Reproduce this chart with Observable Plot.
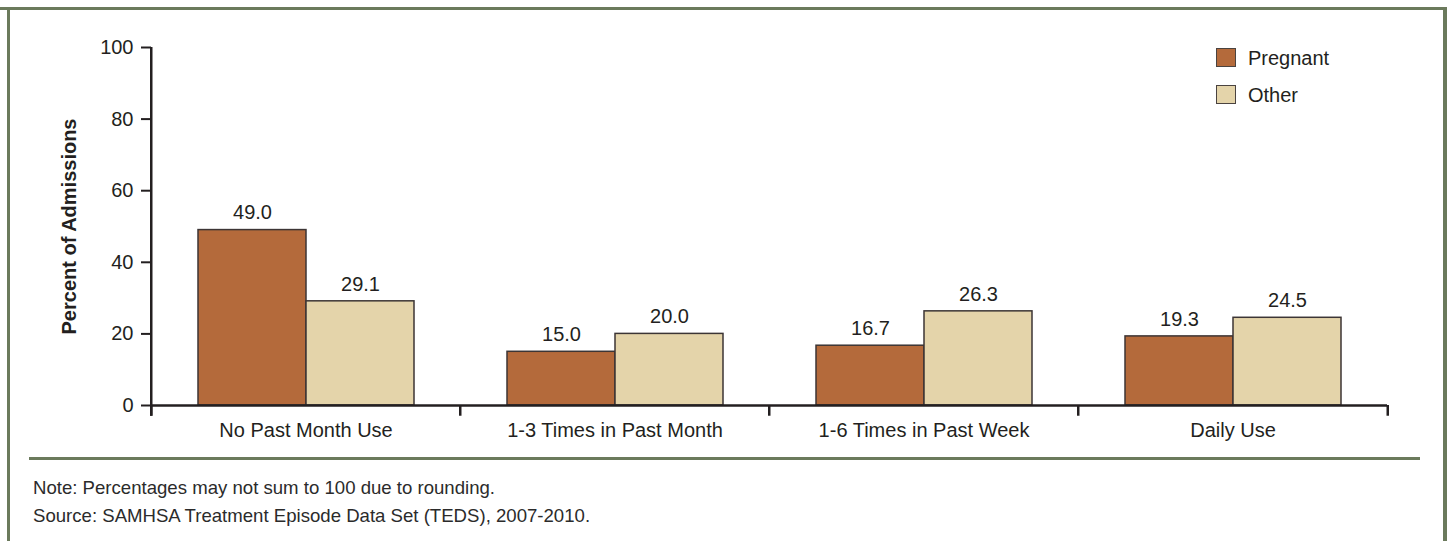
<!DOCTYPE html>
<html><head><meta charset="utf-8">
<script src="https://cdn.jsdelivr.net/npm/d3@7"></script>
<script src="https://cdn.jsdelivr.net/npm/@observablehq/plot@0.6"></script>
<style>
body{margin:0;background:#fff;}
#wrap{position:relative;width:1453px;height:541px;overflow:hidden;background:#fff;}
.bd{position:absolute;background:#6b7a5c;}
#chart{position:absolute;left:0;top:0;}
#chart svg{background:none;overflow:visible;}
g[aria-label="y-axis label"] text{font-weight:700;}
.leg{position:absolute;left:1216px;height:20px;font-family:'Liberation Sans',Arial,sans-serif;font-size:20px;color:#231f20;line-height:20px;white-space:nowrap;}
.sw{position:absolute;left:0;top:0;width:18px;height:17px;border:1.5px solid #4a4340;}
.leg span.t{position:absolute;left:32px;top:0;}
.note{position:absolute;left:33px;font-family:'Liberation Sans',Arial,sans-serif;font-size:18.6px;line-height:20px;color:#2b2b2b;white-space:nowrap;}
</style></head><body>
<div id="wrap">
  <div id="chart"></div>
  <div class="bd" style="left:0;top:7px;width:1447px;height:3px"></div>
  <div class="bd" style="left:7px;top:7px;width:3px;height:540px"></div>
  <div class="bd" style="left:1443px;top:7px;width:4px;height:540px"></div>
  <div class="bd" style="left:29px;top:457px;width:1391px;height:3px"></div>
  <div id="legend"></div>
  <div class="note" id="note1" style="top:478px"></div>
  <div class="note" id="note2" style="top:506px"></div>
</div>
<script>
const categories = ["No Past Month Use", "1-3 Times in Past Month", "1-6 Times in Past Week", "Daily Use"];
const groups = ["Pregnant", "Other"];
const pregnant = [49.0, 15.0, 16.7, 19.3];
const other = [29.1, 20.0, 26.3, 24.5];
const yTicks = [0, 20, 40, 60, 80, 100];
const colors = ["#b46a3b", "#e4d4aa"];
const yLabel = "Percent of Admissions";
const notes = ["Note: Percentages may not sum to 100 due to rounding.", "Source: SAMHSA Treatment Episode Data Set (TEDS), 2007-2010."];

const data = categories.flatMap((c, i) => [
  {category: c, group: groups[0], value: pregnant[i]},
  {category: c, group: groups[1], value: other[i]}
]);

const W = 1453, H = 450, ML = 150, MR = 65, MT = 47, MB = 45;
const facetW = (W - ML - MR) / categories.length;
const ink = "#231f20";
const font = "'Liberation Sans',Arial,sans-serif";

const chart = Plot.plot({
  width: W, height: H,
  marginLeft: ML, marginRight: MR, marginTop: MT, marginBottom: MB,
  fx: {domain: categories, padding: 0, label: null, axis: null},
  x: {domain: groups, paddingInner: 0, paddingOuter: 0.43, axis: null},
  y: {domain: [0, 100], axis: null},
  color: {domain: groups, range: colors},
  style: {fontFamily: font, fontSize: "20px", color: ink, background: "none", overflow: "visible"},
  marks: [
    Plot.barY(data, {fx: "category", x: "group", y: "value", fill: "group", stroke: "#3c3535", strokeWidth: 1.5}),
    Plot.text(data, {fx: "category", x: "group", y: "value", text: d => d.value.toFixed(1), dy: -17, fontSize: 20, fill: ink}),
    Plot.ruleY([0], {stroke: ink, strokeWidth: 2.5}),
    Plot.ruleX(categories, {fx: d => d, x: null, y1: 0, y2: -3, dx: -facetW / 2, stroke: ink, strokeWidth: 2.5}),
    Plot.ruleX([categories[categories.length - 1]], {fx: d => d, x: null, y1: 0, y2: -3, dx: facetW / 2, stroke: ink, strokeWidth: 2.5}),
    Plot.ruleX([categories[0]], {fx: d => d, x: null, y1: -3, y2: 100, dx: -facetW / 2, stroke: ink, strokeWidth: 2.5}),
    Plot.axisY({ticks: yTicks, tickSize: 10, tickPadding: 8, strokeWidth: 2, fontSize: 20, label: yLabel, labelAnchor: "center", labelArrow: "none", labelOffset: 90}),
    Plot.axisFx({anchor: "bottom", tickSize: 0, tickPadding: 17, label: null, fontSize: 20})
  ]
});
document.getElementById("chart").appendChild(chart);

const leg = document.getElementById("legend");
groups.forEach((g, i) => {
  const d = document.createElement("div");
  d.className = "leg";
  d.style.top = (48 + i * 37) + "px";
  d.innerHTML = `<span class="sw" style="background:${colors[i]}"></span><span class="t">${g}</span>`;
  leg.appendChild(d);
});
document.getElementById("note1").textContent = notes[0];
document.getElementById("note2").textContent = notes[1];
</script>
</body></html>
